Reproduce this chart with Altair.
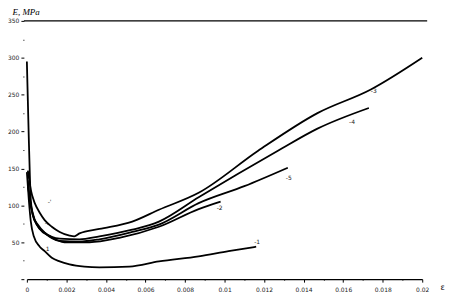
import altair as alt
import pandas as pd

# strain values (eps) and modulus E (MPa)
c1_eps = [0, 0.0001, 0.0002, 0.00035, 0.00065, 0.0009, 0.00126, 0.00166, 0.00216, 0.00291, 0.00367, 0.00518, 0.00668, 0.00869, 0.0102, 0.0116]
c1_E = [145, 107, 78, 58, 44, 38, 29, 24, 20, 17, 16, 17, 24, 31, 38, 44]

c2_eps = [0.00005, 0.0002, 0.0004, 0.00065, 0.00116, 0.0019, 0.00317, 0.00467, 0.00668, 0.00869, 0.0098]
c2_E = [127, 101, 80, 68, 58, 50, 50, 56, 71, 95, 105]

c3_eps = [0.00005, 0.0002, 0.0004, 0.00065, 0.0009, 0.00126, 0.00166, 0.00216, 0.0024, 0.00266, 0.00367, 0.00533, 0.00668, 0.00869, 0.0117, 0.0147, 0.0174, 0.0200]
c3_E = [147, 121, 103, 90, 80, 71, 64, 59, 58, 62, 68, 78, 94, 117, 174, 225, 257, 300]

c4_eps = [0, 0.00005, 0.0001, 0.00015, 0.0002, 0.0003, 0.0005, 0.0009, 0.00166, 0.00266, 0.00367, 0.00533, 0.00668, 0.00869, 0.0127, 0.0147, 0.0173]
c4_E = [295, 241, 188, 141, 107, 87, 74, 63, 55, 54, 58, 67, 78, 111, 174, 204, 232]

c5_eps = [0.00005, 0.00015, 0.0003, 0.00055, 0.0009, 0.00166, 0.00266, 0.00367, 0.00533, 0.00668, 0.00869, 0.011, 0.0132]
c5_E = [134, 107, 87, 74, 63, 52, 51, 54, 64, 74, 103, 126, 151]

curves = {"1": (c1_eps, c1_E), "2": (c2_eps, c2_E), "3": (c3_eps, c3_E),
          "4": (c4_eps, c4_E), "5": (c5_eps, c5_E)}

label_text = ["-1", "-2", "-3", "-4", "-5", "1", "-'", "-."]
label_eps = [0.0115, 0.0096, 0.0174, 0.0163, 0.0131, 0.00095, 0.00105, 0.0009]
label_E = [50, 97, 255, 213, 137, 41, 104, 76]

# top frame line (E = 350) extent
frame_eps = [-0.00015, 0.02025]
frame_E = [350, 350]

rows = []
for name, (xs, ys) in curves.items():
    for i, (x, y) in enumerate(zip(xs, ys)):
        rows.append({"curve": name, "i": i, "eps": x, "E": y})
df = pd.DataFrame(rows)
lab = pd.DataFrame({"t": label_text, "eps": label_eps, "E": label_E})
frame = pd.DataFrame({"eps": frame_eps, "E": frame_E})

x_ticks = [i / 1000 for i in range(0, 21)]
y_ticks = list(range(0, 351, 25))

xscale = alt.Scale(domain=[0, 0.02], nice=False, zero=True)
yscale = alt.Scale(domain=[0, 350], nice=False)

xaxis = alt.Axis(
    values=x_ticks,
    labelExpr="(round(datum.value*1000) % 2 === 0) ? toString(round(datum.value*1000)/1000) : ''",
    tickSize={"condition": {"test": "round(datum.value*1000) % 2 === 0", "value": 3}, "value": 1},
    grid=False, domain=True, domainColor="black", domainWidth=1.2, tickColor="black",
    labelFontSize=6, labelFont="DejaVu Sans", labelColor="#222", labelPadding=4,
    labelOverlap=False, labelBound=False, labelFlush=False,
    title="ε", titleFontSize=8, titleFontWeight="normal", titleFont="DejaVu Sans",
    titleX=418, titleY=4, titleAlign="center", titleBaseline="top", titleAngle=0,
)
yaxis = alt.Axis(
    values=y_ticks,
    labelExpr="datum.value % 50 === 0 && datum.value > 0 ? datum.label : ''",
    tickSize={"condition": {"test": "datum.value % 50 === 0", "value": 3}, "value": 1},
    grid=False, domain=False, tickColor="black", offset=3,
    labelFontSize=6, labelFont="DejaVu Sans", labelColor="#222", labelPadding=2,
    labelOverlap=False, labelBound=False, labelFlush=False,
    title="E, MPa", titleFontSize=9, titleFontStyle="italic", titleFontWeight="normal",
    titleFont="Liberation Serif", titleAngle=0, titleAlign="left", titleBaseline="bottom",
    titleX=-12, titleY=-4,
)

lines = alt.Chart(df).mark_line(color="black", strokeWidth=1.8, interpolate="monotone").encode(
    x=alt.X("eps:Q", scale=xscale, axis=xaxis),
    y=alt.Y("E:Q", scale=yscale, axis=yaxis),
    detail="curve:N",
    order="i:Q",
)

top = alt.Chart(frame).mark_line(color="black", strokeWidth=1.3).encode(
    x=alt.X("eps:Q", scale=xscale, axis=xaxis),
    y=alt.Y("E:Q", scale=yscale, axis=yaxis),
)

texts = alt.Chart(lab).mark_text(fontSize=6, font="DejaVu Sans", align="left", baseline="middle", color="#222").encode(
    x=alt.X("eps:Q", scale=xscale, axis=xaxis),
    y=alt.Y("E:Q", scale=yscale, axis=yaxis),
    text="t:N",
)

chart = alt.layer(lines, top, texts).properties(
    width=398, height=260,
    autosize=alt.AutoSizeParams(type="none"),
    padding={"left": 19, "top": 12, "right": 35, "bottom": 20},
).configure_view(stroke=None).configure_axis(labelOverlap=False)

chart.save("out.html", embed_options={"renderer": "svg", "actions": False})
